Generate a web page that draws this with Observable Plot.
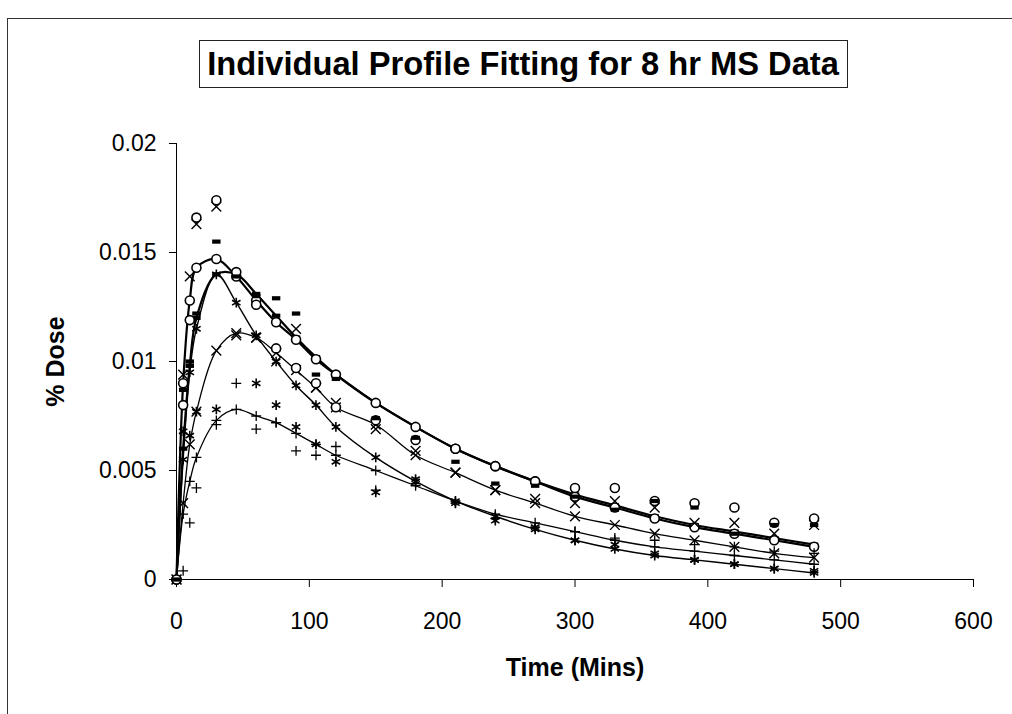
<!DOCTYPE html>
<html>
<head>
<meta charset="utf-8">
<script src="https://cdn.jsdelivr.net/npm/d3@7"></script>
<script src="https://cdn.jsdelivr.net/npm/@observablehq/plot@0.6"></script>
<style>
  html, body { margin: 0; padding: 0; background: #fff; }
  #wrap { position: relative; width: 1012px; height: 714px; overflow: hidden; font-family: "Liberation Sans", Arial, sans-serif; }
  #frame { position: absolute; left: 7px; top: 18px; width: 1100px; height: 800px; border-left: 1.5px solid #333; border-top: 1.5px solid #333; box-sizing: border-box; }
  #title { position: absolute; left: 199px; top: 40px; width: 649px; height: 48px; border: 1.5px solid #222; box-sizing: border-box;
           display: flex; align-items: center; justify-content: center; font-weight: bold; font-size: 33px; color: #000; background: #fff; z-index: 2; white-space: nowrap; }
  #title span { display: inline-block; transform: scaleX(0.99); }
  #chart { position: absolute; left: 0; top: 0; }
</style>
</head>
<body>
<div id="wrap">
  <div id="chart"></div>
  <div id="frame"></div>
  <div id="title"><span>Individual Profile Fitting for 8 hr MS Data</span></div>
</div>
<script>
// Sampling times (minutes)
const times = [0, 5, 10, 15, 30, 45, 60, 75, 90, 105, 120, 150, 180, 210, 240, 270, 300, 330, 360, 390, 420, 450, 480];

// Fitted profiles (% dose)
const fitCircle = [0, 0.0090, 0.0128, 0.0143, 0.0147, 0.0139, 0.0128, 0.0118, 0.0110, 0.0101, 0.0094, 0.0081, 0.0070, 0.0060, 0.0052, 0.0045, 0.0038, 0.0033, 0.0028, 0.0024, 0.0021, 0.0018, 0.0015];
const fitDash   = [0, 0.0060, 0.0098, 0.0120, 0.0140, 0.0140, 0.0131, 0.0121, 0.0111, 0.0102, 0.0094, 0.0081, 0.0070, 0.0060, 0.0052, 0.0045, 0.0039, 0.0034, 0.0029, 0.0025, 0.0022, 0.0019, 0.0016];
const fitCross  = [0, 0.0035, 0.0062, 0.0077, 0.0105, 0.0113, 0.0111, 0.0104, 0.0096, 0.0088, 0.0079, 0.0071, 0.0057, 0.0049, 0.0041, 0.0035, 0.0029, 0.0025, 0.0021, 0.0018, 0.0015, 0.0012, 0.0010];
const fitStar   = [0, 0.0055, 0.0095, 0.0115, 0.0140, 0.0127, 0.0112, 0.0100, 0.0089, 0.0080, 0.0070, 0.0056, 0.0045, 0.0036, 0.0029, 0.0023, 0.0018, 0.0014, 0.0011, 0.0009, 0.0007, 0.0005, 0.0003];
const fitPlus   = [0, 0.0030, 0.0045, 0.0056, 0.0073, 0.0078, 0.0075, 0.0072, 0.0067, 0.0062, 0.0057, 0.0050, 0.0043, 0.0036, 0.0030, 0.0026, 0.0022, 0.0018, 0.0015, 0.0013, 0.0011, 0.0009, 0.0007];

// Observed values (% dose)
const obsCircle = [0, 0.0080, 0.0119, 0.0166, 0.0174, 0.0141, 0.0126, 0.0106, 0.0097, 0.0090, 0.0079, 0.0073, 0.0064, 0.0060, 0.0052, 0.0045, 0.0042, 0.0042, 0.0036, 0.0035, 0.0033, 0.0026, 0.0028];
const obsDash   = [0, 0.0087, 0.0100, 0.0122, 0.0155, 0.0139, 0.0130, 0.0129, 0.0122, 0.0094, 0.0092, 0.0074, 0.0065, 0.0054, 0.0044, 0.0043, 0.0038, 0.0032, 0.0036, 0.0033, 0.0021, 0.0025, 0.0025];
const obsCross  = [0, 0.0094, 0.0139, 0.0163, 0.0171, 0.0112, 0.0111, 0.0100, 0.0115, 0.0088, 0.0081, 0.0069, 0.0059, 0.0049, 0.0041, 0.0037, 0.0035, 0.0036, 0.0033, 0.0026, 0.0026, 0.0021, 0.0025];
const obsStar   = [0, 0.0068, 0.0066, 0.0077, 0.0078, null, 0.0090, 0.0080, 0.0070, 0.0062, 0.0054, 0.0040, 0.0046, 0.0035, 0.0027, 0.0024, 0.0018, 0.0016, 0.0012, 0.0009, 0.0007, 0.0005, 0.0004];
const obsPlus   = [0, 0.0004, 0.0026, 0.0042, 0.0071, 0.0090, 0.0069, 0.0072, 0.0059, 0.0057, 0.0061, 0.0041, 0.0044, 0.0035, 0.0028, 0.0024, 0.0022, 0.0019, 0.0018, 0.0016, 0.0015, 0.0013, 0.0012];

// Axis ticks
const xTicks = [0, 100, 200, 300, 400, 500, 600];
const yTicks = [0, 0.005, 0.01, 0.015, 0.02];

const rows = (vals) => times.map((t, i) => ({t, v: vals[i]})).filter(d => d.v != null);

const dashSymbol = {
  draw(ctx, size) {
    const r = Math.sqrt(size / Math.PI);
    const h = r * 0.5;
    ctx.moveTo(-r, -h); ctx.lineTo(r, -h); ctx.lineTo(r, h); ctx.lineTo(-r, h); ctx.closePath();
  }
};

const lineOpts = (w) => ({x: "t", y: "v", curve: "catmull-rom", stroke: "black", strokeWidth: w});
const circleDot = {x: "t", y: "v", symbol: "circle", r: 4.5, stroke: "black", fill: "white", strokeWidth: 1.6};
const dashDot = {x: "t", y: "v", symbol: dashSymbol, r: 4.2, fill: "black", stroke: "none"};
const crossDot = {x: "t", y: "v", symbol: "times", r: 4.5, stroke: "black", strokeWidth: 1.4};
const starDot = {x: "t", y: "v", symbol: "asterisk", r: 4.6, stroke: "black", strokeWidth: 1.6};
const plusDot = {x: "t", y: "v", symbol: "plus", r: 3.3, stroke: "black", strokeWidth: 1.3};

const chart = Plot.plot({
  width: 1012,
  height: 714,
  marginLeft: 176,
  marginRight: 39,
  marginTop: 143,
  marginBottom: 135,
  style: {fontFamily: "'Liberation Sans', Arial, sans-serif", fontSize: "23px", color: "black", background: "white"},
  x: {domain: [0, 600]},
  y: {domain: [0, 0.02]},
  marks: [
    Plot.ruleY([0], {stroke: "black", strokeWidth: 1}),
    Plot.ruleX([0], {stroke: "black", strokeWidth: 1}),
    Plot.axisX({ticks: xTicks, tickSize: 8, tickPadding: 25, label: null, fontSize: 23, stroke: "black"}),
    Plot.axisY({ticks: yTicks, tickSize: 7, tickPadding: 13, label: null, fontSize: 23, stroke: "black",
                tickFormat: d => String(+d.toFixed(3))}),
    Plot.text(["% Dose"], {text: d => d, frameAnchor: "left", textAnchor: "middle", dx: -121, rotate: -90, fontWeight: "bold", fontSize: 25}),
    Plot.text(["Time (Mins)"], {text: d => d, frameAnchor: "bottom", textAnchor: "middle", dy: 96, fontWeight: "bold", fontSize: 25}),
    // fitted curves
    Plot.line(rows(fitPlus), lineOpts(1.3)),
    Plot.line(rows(fitStar), lineOpts(1.4)),
    Plot.line(rows(fitCross), lineOpts(1.3)),
    Plot.line(rows(fitDash), lineOpts(2.2)),
    Plot.line(rows(fitCircle), lineOpts(2.2)),
    // markers on fitted curves
    Plot.dot(rows(fitPlus), plusDot),
    Plot.dot(rows(fitStar), starDot),
    Plot.dot(rows(fitCross), crossDot),
    Plot.dot(rows(fitDash), dashDot),
    Plot.dot(rows(fitCircle), circleDot),
    // observed values
    Plot.dot(rows(obsPlus), plusDot),
    Plot.dot(rows(obsStar), starDot),
    Plot.dot(rows(obsCross), crossDot),
    Plot.dot(rows(obsCircle), circleDot),
    Plot.dot(rows(obsDash), dashDot)
  ]
});
document.getElementById("chart").appendChild(chart);
</script>
</body>
</html>
